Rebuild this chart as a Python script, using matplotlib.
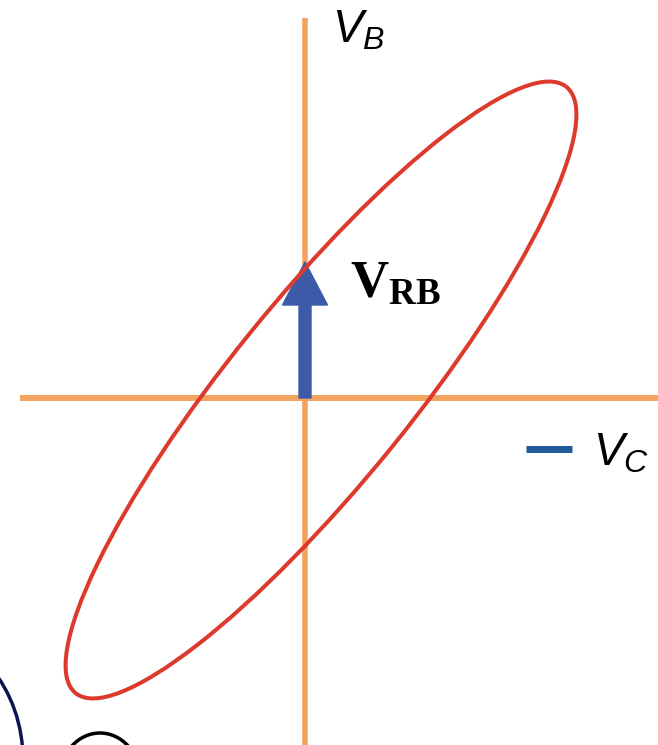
import matplotlib.pyplot as plt
from matplotlib.patches import Ellipse
from matplotlib.lines import Line2D

plt.rcParams['mathtext.fontset'] = 'custom'
plt.rcParams['mathtext.it'] = 'Liberation Sans:italic'
plt.rcParams['mathtext.rm'] = 'Liberation Sans'
plt.rcParams['mathtext.bf'] = 'Liberation Serif:bold'

# ellipse (voltage locus), origin = crossing of the two axes
ell_center = (16, 8)
ell_width = 780
ell_height = 182
ell_angle = 51

# V_RB vector
vrb = (0, 136)

# axis extents
h_axis = (-285, 353)
v_axis = (-347, 380)

fig = plt.figure(figsize=(6.58, 7.45), dpi=100)
ax = fig.add_axes([0, 0, 1, 1])
ax.set_xlim(-305, 353)
ax.set_ylim(-347, 398)
ax.axis('off')

orange = '#f2a35e'
ax.hlines(0, h_axis[0], h_axis[1], color=orange, lw=4.3, zorder=1)
ax.vlines(0, v_axis[0], v_axis[1], color=orange, lw=4.0, zorder=1)

ax.add_patch(Ellipse(ell_center, ell_width, ell_height, angle=ell_angle,
                     fill=False, ec='#dc3a2c', lw=2.9, zorder=3))

ax.arrow(0, 0, vrb[0], vrb[1], width=12, head_width=45, head_length=43,
         length_includes_head=True, color='#3c5aa8', zorder=2)

ax.text(27, 356, '$V_B$', fontsize=33, va='baseline', ha='left')
ax.text(45, 100, r'$\mathbf{V_{RB}}$', fontsize=38, va='baseline', ha='left')

h = Line2D([], [], color='#1f5a9a', lw=5, solid_capstyle='butt')
ax.legend([h], ['$V_C$'], loc='center left', bbox_to_anchor=(0.80, 0.392),
          frameon=False, fontsize=33, handlelength=1.0, handletextpad=0.45,
          borderpad=0, borderaxespad=0)

# slide decoration at bottom left
ax.add_patch(Ellipse((-391, -362), 218, 260, fill=False, ec='#0d1450', lw=2.5))
ax.add_patch(Ellipse((-205, -380), 80, 90, fill=False, ec='black', lw=2.5))

fig.savefig('out.png', dpi=100)
